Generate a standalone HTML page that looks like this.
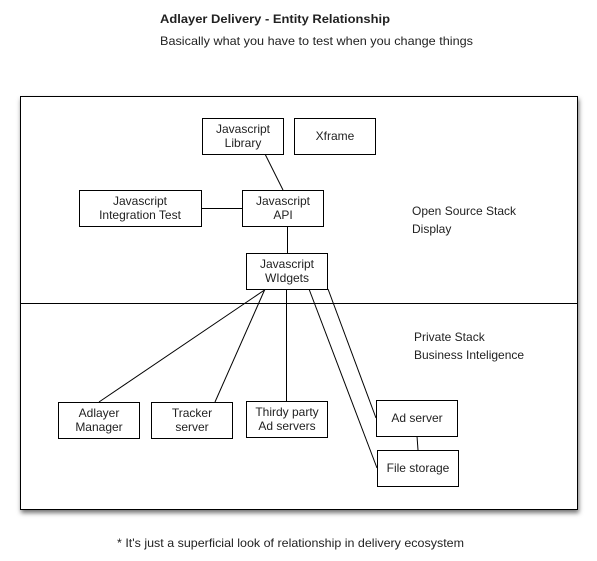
<!DOCTYPE html>
<html><head><meta charset="utf-8"><style>
html,body{margin:0;padding:0;background:#fff;}
svg{display:block;}
text{font-family:"Liberation Sans",sans-serif;font-size:12px;fill:#222;}
</style></head><body>
<svg width="597" height="561" viewBox="0 0 597 561" xmlns="http://www.w3.org/2000/svg">
<defs>
<filter id="sh" x="-5%" y="-5%" width="115%" height="115%">
<feDropShadow dx="1" dy="3" stdDeviation="2.5" flood-color="#000" flood-opacity="0.55"/>
</filter>
</defs>
<text x="160" y="23" style="font-weight:bold" textLength="230" lengthAdjust="spacingAndGlyphs">Adlayer Delivery - Entity Relationship</text>
<text x="160" y="45" textLength="313" lengthAdjust="spacingAndGlyphs">Basically what you have to test when you change things</text>

<rect x="20.5" y="96.5" width="557" height="413" fill="#fff" stroke="#000" stroke-width="1" filter="url(#sh)"/>
<line x1="20" y1="303.5" x2="578" y2="303.5" stroke="#000"/>

<g stroke="#000" stroke-width="1" fill="none">
<line x1="265" y1="154" x2="283" y2="190"/>
<line x1="202" y1="208.5" x2="242" y2="208.5"/>
<line x1="287.5" y1="226" x2="287.5" y2="253"/>
<line x1="266" y1="289" x2="99" y2="402"/>
<line x1="265" y1="289" x2="215" y2="402"/>
<line x1="286.5" y1="289" x2="286.5" y2="401"/>
<line x1="309" y1="289" x2="377" y2="468"/>
<line x1="328" y1="289" x2="376" y2="418"/>
<line x1="417" y1="436" x2="418" y2="450"/>
</g>

<g fill="#fff" stroke="#000" stroke-width="1">
<rect x="202.5" y="118.5" width="81" height="36"/>
<rect x="294.5" y="118.5" width="81" height="36"/>
<rect x="79.5" y="190.5" width="122" height="36"/>
<rect x="242.5" y="190.5" width="81" height="36"/>
<rect x="246.5" y="253.5" width="81" height="36"/>
<rect x="58.5" y="402.5" width="81" height="36"/>
<rect x="151.5" y="402.5" width="81" height="36"/>
<rect x="246.5" y="401.5" width="81" height="36"/>
<rect x="376.5" y="400.5" width="81" height="36"/>
<rect x="377.5" y="450.5" width="81" height="36"/>
</g>

<g text-anchor="middle">
<text x="243" y="133">Javascript</text><text x="243" y="147">Library</text>
<text x="335" y="140">Xframe</text>
<text x="140" y="205">Javascript</text><text x="140" y="219">Integration Test</text>
<text x="283" y="205">Javascript</text><text x="283" y="219">API</text>
<text x="287" y="268">Javascript</text><text x="287" y="282">WIdgets</text>
<text x="99" y="417">Adlayer</text><text x="99" y="431">Manager</text>
<text x="192" y="417">Tracker</text><text x="192" y="431">server</text>
<text x="287" y="416">Thirdy party</text><text x="287" y="430">Ad servers</text>
<text x="417" y="422">Ad server</text>
<text x="418" y="472">File storage</text>
</g>

<text x="412" y="215">Open Source Stack</text>
<text x="412" y="233">Display</text>
<text x="414" y="341">Private Stack</text>
<text x="414" y="359">Business Inteligence</text>

<text x="117" y="547" textLength="347" lengthAdjust="spacingAndGlyphs">* It's just a superficial look of relationship in delivery ecosystem</text>
</svg>
</body></html>
